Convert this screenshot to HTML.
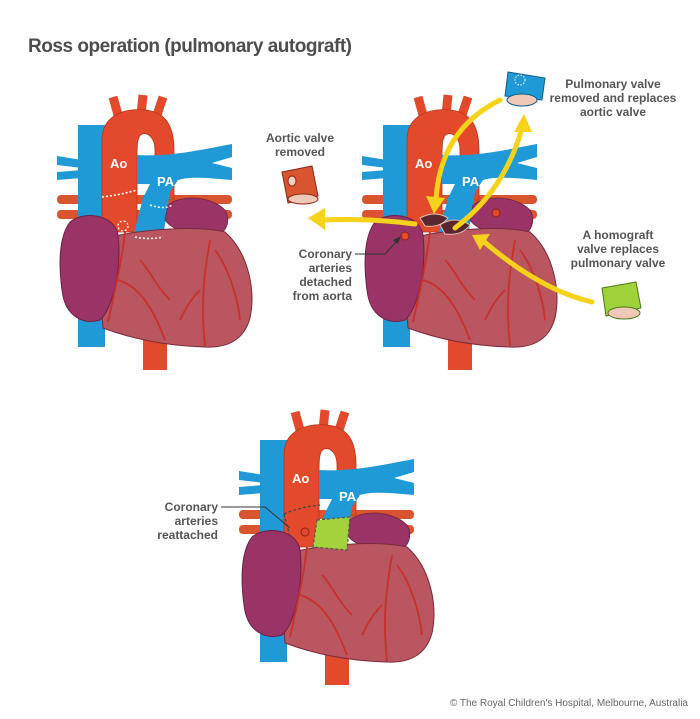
<!DOCTYPE html>
<html><head><meta charset="utf-8"><style>
html,body{margin:0;padding:0;background:#fff}
svg{display:block}
.lb{font-family:"Liberation Sans",sans-serif;font-weight:bold;font-size:12px;fill:#555}
.w{font-family:"Liberation Sans",sans-serif;font-weight:bold;font-size:13px;fill:#fff}
</style></head><body>
<svg width="700" height="719" viewBox="0 0 700 719" xmlns="http://www.w3.org/2000/svg">
<defs>
<g id="heart">
  <rect x="57" y="195" width="175" height="9" rx="4" fill="#d9552f"/>
  <rect x="57" y="210" width="175" height="9" rx="4" fill="#d9552f"/>
  <path d="M57,156 L82,160 L82,168 L57,165 Z" fill="#1f9ad6"/>
  <path d="M57,172 L82,170 L82,178 L57,180 Z" fill="#1f9ad6"/>
  <rect x="78" y="125" width="27" height="222" fill="#1f9ad6"/>
  <path d="M120,122 L113,97 M141,115 L143,95 M156,118 L163,97" stroke="#e34a2b" stroke-width="9" fill="none"/>
  <path d="M102,232 L102,140 C102,115 125,108 145,110 C165,112 174,125 174,150 L174,200 L155,200 L155,150 C155,138 148,132 142,134 C137,136 137,145 137,160 L137,232 Z" fill="#e34a2b" stroke="#b8341d" stroke-width="0.8"/>
  <path d="M137,155 C170,157 200,150 232,144 L232,157 L212,163 L232,168 L232,180 C210,178 190,176 178,180 L170,192 L163,237 L133,237 L143,198 L150,184 L137,184 Z" fill="#1f9ad6"/>
  <path d="M168,205 C180,195 210,195 225,210 C232,222 225,237 210,236 C190,235 172,230 165,220 Z" fill="#9a3466" stroke="#6e2040" stroke-width="0.8"/>
  <rect x="143" y="330" width="24" height="40" fill="#e34a2b"/>
  <path d="M110,237 C150,228 200,226 225,232 C248,252 256,290 250,318 C244,340 228,348 205,347 C170,346 135,340 103,328 C100,290 102,260 110,237 Z" fill="#b9565f" stroke="#7a2a3a" stroke-width="1"/>
  <path d="M70,222 C85,210 115,215 118,235 C122,270 112,310 100,320 C85,325 65,318 62,290 C58,260 60,235 70,222 Z" fill="#9a3466" stroke="#6e2040" stroke-width="1"/>
  <path d="M125,232 C122,260 115,290 108,322 M118,280 C135,285 150,300 165,340 M140,260 C150,270 155,285 170,300 M210,240 C205,270 200,300 205,346 M215,250 C230,270 238,300 240,320 M200,290 C190,300 185,310 180,320" stroke="#c8302d" stroke-width="1.8" fill="none"/>
</g>
</defs>

<text x="28" y="52" font-family="Liberation Sans, sans-serif" font-weight="bold" font-size="19" fill="#4d4d4d" textLength="324">Ross operation (pulmonary autograft)</text>

<use href="#heart"/>
<path d="M102,197 Q120,195 137,190 M150,205 Q165,210 172,205 M135,237 Q150,240 163,237" stroke="#fff" stroke-width="1.5" stroke-dasharray="2,2" fill="none"/>
<circle cx="123" cy="226" r="5" fill="none" stroke="#fff" stroke-width="1.3" stroke-dasharray="2,2"/>
<text class="w" x="110" y="168">Ao</text>
<text class="w" x="157" y="186">PA</text>

<g transform="translate(305,0)"><use href="#heart"/></g>
<path d="M420,218 Q435,210 448,218 Q440,228 425,226 Z" fill="#5a2630" stroke="#e8c0b0" stroke-width="1"/>
<path d="M440,225 Q455,215 470,225 Q462,236 445,234 Z" fill="#5a2630" stroke="#e8c0b0" stroke-width="1"/>
<circle cx="405" cy="236" r="4" fill="#e34a2b" stroke="#8a2020"/>
<circle cx="496" cy="213" r="4" fill="#e34a2b" stroke="#8a2020"/>
<text class="w" x="415" y="168">Ao</text>
<text class="w" x="462" y="186">PA</text>

<g fill="none" stroke="#f7d21a" stroke-width="5" stroke-linecap="round">
  <path d="M415,224 Q370,218 322,220"/>
  <path d="M500,100 Q440,130 436,200"/>
  <path d="M455,228 Q505,190 522,128"/>
  <path d="M592,302 Q540,290 482,240"/>
</g>
<g fill="#f7d21a">
  <polygon points="308,218 325,208 325,230"/>
  <polygon points="434,214 426,196 445,198"/>
  <polygon points="524,114 514,132 532,132"/>
  <polygon points="472,235 490,234 480,250"/>
</g>

<g>
  <path d="M282,172 L312,166 L318,196 L288,203 Z" fill="#d9552f" stroke="#8a2a18"/>
  <ellipse cx="303" cy="199" rx="15" ry="5" fill="#f0c8b8" stroke="#8a2a18"/>
  <ellipse cx="292" cy="181" rx="4" ry="5" fill="#f0d0c0" stroke="#8a2a18"/>
</g>
<g>
  <path d="M508,72 L545,78 L542,100 L505,96 Z" fill="#1f9ad6" stroke="#0d5f8a"/>
  <ellipse cx="522" cy="100" rx="15" ry="6" fill="#f0c8b8" stroke="#0d5f8a"/>
  <circle cx="520" cy="80" r="5" fill="none" stroke="#fff" stroke-dasharray="1.5,1.5"/>
</g>
<g>
  <path d="M602,288 L636,282 L641,308 L606,316 Z" fill="#9ed23a" stroke="#4c7a18"/>
  <ellipse cx="624" cy="313" rx="16" ry="6" fill="#f0c8b8" stroke="#4c7a18"/>
</g>

<text class="lb" text-anchor="middle" x="300" y="142">Aortic valve</text>
<text class="lb" text-anchor="middle" x="300" y="156">removed</text>
<text class="lb" text-anchor="middle" x="613" y="88">Pulmonary valve</text>
<text class="lb" text-anchor="middle" x="613" y="102">removed and replaces</text>
<text class="lb" text-anchor="middle" x="613" y="116">aortic valve</text>
<text class="lb" text-anchor="middle" x="618" y="239">A homograft</text>
<text class="lb" text-anchor="middle" x="618" y="253">valve replaces</text>
<text class="lb" text-anchor="middle" x="618" y="267">pulmonary valve</text>
<text class="lb" text-anchor="end" x="352" y="258">Coronary</text>
<text class="lb" text-anchor="end" x="352" y="272">arteries</text>
<text class="lb" text-anchor="end" x="352" y="286">detached</text>
<text class="lb" text-anchor="end" x="352" y="300">from aorta</text>
<path d="M355,254 L385,254 L398,240" stroke="#333" stroke-width="1" fill="none"/>
<polygon points="401,236 393,240 398,244" fill="#333"/>

<g transform="translate(182,315)"><use href="#heart"/></g>
<path d="M317,520 L350,517 L347,550 L313,547 Z" fill="#a4d23a" stroke="#555" stroke-width="1.2" stroke-dasharray="3,2"/>
<path d="M284,514 Q300,507 320,505 M284,514 L290,537" stroke="#444" stroke-width="1.2" stroke-dasharray="3,2" fill="none"/>
<circle cx="305" cy="532" r="4" fill="#e34a2b" stroke="#8a2020"/>
<text class="w" x="292" y="483">Ao</text>
<text class="w" x="339" y="501">PA</text>
<text class="lb" text-anchor="end" x="218" y="511">Coronary</text>
<text class="lb" text-anchor="end" x="218" y="525">arteries</text>
<text class="lb" text-anchor="end" x="218" y="539">reattached</text>
<path d="M221,507 L265,507 L290,528" stroke="#333" stroke-width="1" fill="none"/>

<text x="688" y="706" text-anchor="end" font-family="Liberation Sans, sans-serif" font-size="10" fill="#666">© The Royal Children's Hospital, Melbourne, Australia</text>
</svg>
</body></html>
